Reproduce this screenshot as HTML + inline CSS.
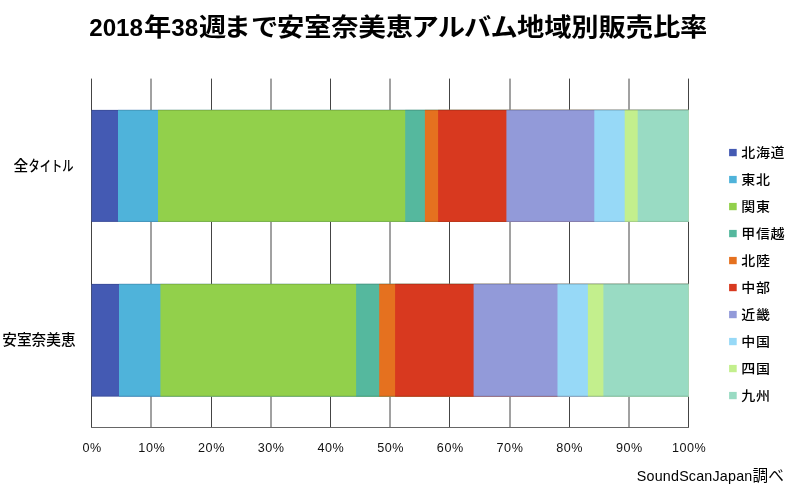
<!DOCTYPE html>
<html lang="ja"><head><meta charset="utf-8">
<title>2018年38週まで安室奈美恵アルバム地域別販売比率</title>
<style>
html,body{margin:0;padding:0;background:#fff;}
body{width:800px;height:499px;overflow:hidden;font-family:"Liberation Sans", "Noto Sans CJK JP", sans-serif;}
svg{display:block;}
text{font-family:"Liberation Sans", "Noto Sans CJK JP", sans-serif;fill:#000;}
.title{font-size:26px;font-weight:bold;letter-spacing:-0.1px;}
.title .d{font-size:24.7px;letter-spacing:0px;}
.title .k{letter-spacing:-0.8px;}
.ax{font-size:12.6px;fill:#111;text-anchor:middle;letter-spacing:0.55px;}
.cat{font-size:14.67px;text-anchor:end;font-weight:500;}
.lg{font-size:14px;letter-spacing:0.67px;font-weight:500;}
.src{font-size:14.67px;text-anchor:end;}
.grid line{stroke:#444;stroke-width:1;}
</style></head><body>
<svg width="800" height="499" viewBox="0 0 800 499">
<rect x="0" y="0" width="800" height="499" fill="#ffffff"/>
<g class="title">
<text class="d" transform="translate(89.20 35.8) scale(0.98 1)">2018</text>
<text transform="translate(144.00 35.8) scale(1.05 0.96)">年</text>
<text class="d" transform="translate(171.20 35.8) scale(0.98 1)">38</text>
<text x="0 23.33 49.52" transform="translate(199.00 35.8) scale(1.05 0.96)">週まで</text>
<text transform="translate(277.00 35.8) scale(1.05 0.96)">安室奈美恵</text>
<text class="k" transform="translate(411.50 35.8) scale(1.05 0.96)">アルバム</text>
<text transform="translate(517.00 35.8) scale(1.05 0.96)">地域別販売比率</text>
</g>
<g class="grid">
<line x1="91.5" y1="78.6" x2="91.5" y2="428.0"/>
<line x1="151.0" y1="78.6" x2="151.0" y2="428.0"/>
<line x1="211.5" y1="78.6" x2="211.5" y2="428.0"/>
<line x1="271.0" y1="78.6" x2="271.0" y2="428.0"/>
<line x1="330.5" y1="78.6" x2="330.5" y2="428.0"/>
<line x1="390.0" y1="78.6" x2="390.0" y2="428.0"/>
<line x1="449.5" y1="78.6" x2="449.5" y2="428.0"/>
<line x1="510.0" y1="78.6" x2="510.0" y2="428.0"/>
<line x1="569.5" y1="78.6" x2="569.5" y2="428.0"/>
<line x1="629.0" y1="78.6" x2="629.0" y2="428.0"/>
<line x1="688.5" y1="78.6" x2="688.5" y2="428.0"/>
<line x1="91.0" y1="427.5" x2="689.0" y2="427.5" style="stroke:#666"/>
</g>
<g>
<rect x="91.5" y="109.9" width="597.0" height="112.0" fill="#445AB3"/>
<rect x="118.0" y="109.9" width="570.5" height="112.0" fill="#4FB3DA"/>
<rect x="158.0" y="109.9" width="530.5" height="112.0" fill="#92D04B"/>
<rect x="405.2" y="109.9" width="283.3" height="112.0" fill="#55B89E"/>
<rect x="424.9" y="109.9" width="263.6" height="112.0" fill="#E5711F"/>
<rect x="438.1" y="109.9" width="250.4" height="112.0" fill="#D8391F"/>
<rect x="506.4" y="109.9" width="182.1" height="112.0" fill="#929AD9"/>
<rect x="594.3" y="109.9" width="94.2" height="112.0" fill="#97D9F7"/>
<rect x="624.7" y="109.9" width="63.8" height="112.0" fill="#C3EF8D"/>
<rect x="637.7" y="109.9" width="50.8" height="112.0" fill="#99DBC3"/>
<rect x="91.0" y="109.9" width="597.5" height="1" fill="#000" fill-opacity="0.13"/>
<rect x="91.0" y="220.9" width="597.5" height="1" fill="#000" fill-opacity="0.13"/>
</g>
<g>
<rect x="91.5" y="283.9" width="597.0" height="112.7" fill="#445AB3"/>
<rect x="119.0" y="283.9" width="569.5" height="112.7" fill="#4FB3DA"/>
<rect x="160.4" y="283.9" width="528.1" height="112.7" fill="#92D04B"/>
<rect x="356.1" y="283.9" width="332.4" height="112.7" fill="#55B89E"/>
<rect x="379.2" y="283.9" width="309.3" height="112.7" fill="#E5711F"/>
<rect x="395.1" y="283.9" width="293.4" height="112.7" fill="#D8391F"/>
<rect x="473.6" y="283.9" width="214.9" height="112.7" fill="#929AD9"/>
<rect x="557.5" y="283.9" width="131.0" height="112.7" fill="#97D9F7"/>
<rect x="587.9" y="283.9" width="100.6" height="112.7" fill="#C3EF8D"/>
<rect x="603.4" y="283.9" width="85.1" height="112.7" fill="#99DBC3"/>
<rect x="91.0" y="283.9" width="597.5" height="1" fill="#000" fill-opacity="0.13"/>
<rect x="91.0" y="395.6" width="597.5" height="1" fill="#000" fill-opacity="0.13"/>
</g>
<g>
<text class="ax" x="92.1" y="452">0%</text>
<text class="ax" x="151.8" y="452">10%</text>
<text class="ax" x="211.5" y="452">20%</text>
<text class="ax" x="271.2" y="452">30%</text>
<text class="ax" x="330.9" y="452">40%</text>
<text class="ax" x="390.6" y="452">50%</text>
<text class="ax" x="450.3" y="452">60%</text>
<text class="ax" x="510.0" y="452">70%</text>
<text class="ax" x="569.7" y="452">80%</text>
<text class="ax" x="629.4" y="452">90%</text>
<text class="ax" x="689.1" y="452">100%</text>
</g>
<text class="cat" y="170.7" style="text-anchor:start"><tspan x="13.6">全</tspan><tspan x="28.6" textLength="45" lengthAdjust="spacingAndGlyphs">タイトル</tspan></text>
<text class="cat" x="75.6" y="344.6">安室奈美恵</text>
<g>
<rect x="729.1" y="148.9" width="7.6" height="7.3" fill="#445AB3"/>
<text class="lg" transform="translate(741.3 156.5) scale(1 0.93)">北海道</text>
<rect x="729.1" y="175.9" width="7.6" height="7.3" fill="#4FB3DA"/>
<text class="lg" transform="translate(741.3 183.5) scale(1 0.93)">東北</text>
<rect x="729.1" y="202.9" width="7.6" height="7.3" fill="#92D04B"/>
<text class="lg" transform="translate(741.3 210.5) scale(1 0.93)">関東</text>
<rect x="729.1" y="229.9" width="7.6" height="7.3" fill="#55B89E"/>
<text class="lg" transform="translate(741.3 237.5) scale(1 0.93)">甲信越</text>
<rect x="729.1" y="256.9" width="7.6" height="7.3" fill="#E5711F"/>
<text class="lg" transform="translate(741.3 264.5) scale(1 0.93)">北陸</text>
<rect x="729.1" y="283.9" width="7.6" height="7.3" fill="#D8391F"/>
<text class="lg" transform="translate(741.3 291.5) scale(1 0.93)">中部</text>
<rect x="729.1" y="310.9" width="7.6" height="7.3" fill="#929AD9"/>
<text class="lg" transform="translate(741.3 318.5) scale(1 0.93)">近畿</text>
<rect x="729.1" y="337.9" width="7.6" height="7.3" fill="#97D9F7"/>
<text class="lg" transform="translate(741.3 345.5) scale(1 0.93)">中国</text>
<rect x="729.1" y="364.9" width="7.6" height="7.3" fill="#C3EF8D"/>
<text class="lg" transform="translate(741.3 372.5) scale(1 0.93)">四国</text>
<rect x="729.1" y="391.9" width="7.6" height="7.3" fill="#99DBC3"/>
<text class="lg" transform="translate(741.3 399.5) scale(1 0.93)">九州</text>
</g>
<text class="src" y="480.7" style="text-anchor:start"><tspan x="636.8" style="font-size:14.3px;letter-spacing:0.2px">SoundScanJapan</tspan><tspan x="752.6" style="font-size:15.6px;letter-spacing:0">調べ</tspan></text>
</svg>
</body></html>
